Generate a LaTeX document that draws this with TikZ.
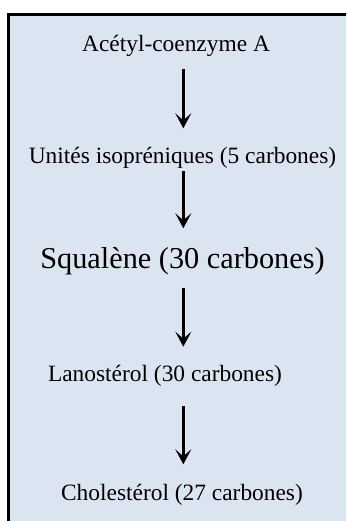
\documentclass[tikz,border=0pt]{standalone}
\usepackage{fontspec}
\setmainfont{Liberation Serif}
\usetikzlibrary{arrows.meta}
\definecolor{boxfill}{HTML}{DBE5F1}
\tikzset{
  lbl/.style={anchor=base, inner sep=0pt, font=\fontsize{23.4}{28}\selectfont},
  biglbl/.style={anchor=base, inner sep=0pt, font=\fontsize{30.3}{36}\selectfont},
  arr/.style={line width=3pt, -{Stealth[length=15pt,width=16pt,inset=7pt]}}
}
\begin{document}
\begin{tikzpicture}[x=1pt,y=1pt]
\useasboundingbox (0,0) rectangle (346,-521);
\clip (0,0) rectangle (346,-521);
\draw[line width=2.7pt, fill=boxfill] (8.65,-14.65) rectangle (380,-560);
\node[lbl] (a) at (176,-52) {Acétyl-coenzyme A};
\node[lbl] (b) at (182.5,-164) {Unités isopréniques (5 carbones)};
\node[biglbl] (c) at (182.5,-268) {Squalène (30 carbones)};
\node[lbl] (d) at (165,-381) {Lanostérol (30 carbones)};
\node[lbl] (e) at (182,-500) {Cholestérol (27 carbones)};
\coordinate (a1) at (183.3,-69.3);
\coordinate (b0) at (183.3,-128.3);
\coordinate (b1) at (183.3,-171.5);
\coordinate (c0) at (183.3,-228.3);
\coordinate (c1) at (183.3,-288.3);
\coordinate (d0) at (183.3,-346.7);
\coordinate (d1) at (183.3,-406);
\coordinate (e0) at (183.3,-464.3);
\draw[arr] (a1) -- (b0);
\draw[arr] (b1) -- (c0);
\draw[arr] (c1) -- (d0);
\draw[arr] (d1) -- (e0);
\end{tikzpicture}
\end{document}
